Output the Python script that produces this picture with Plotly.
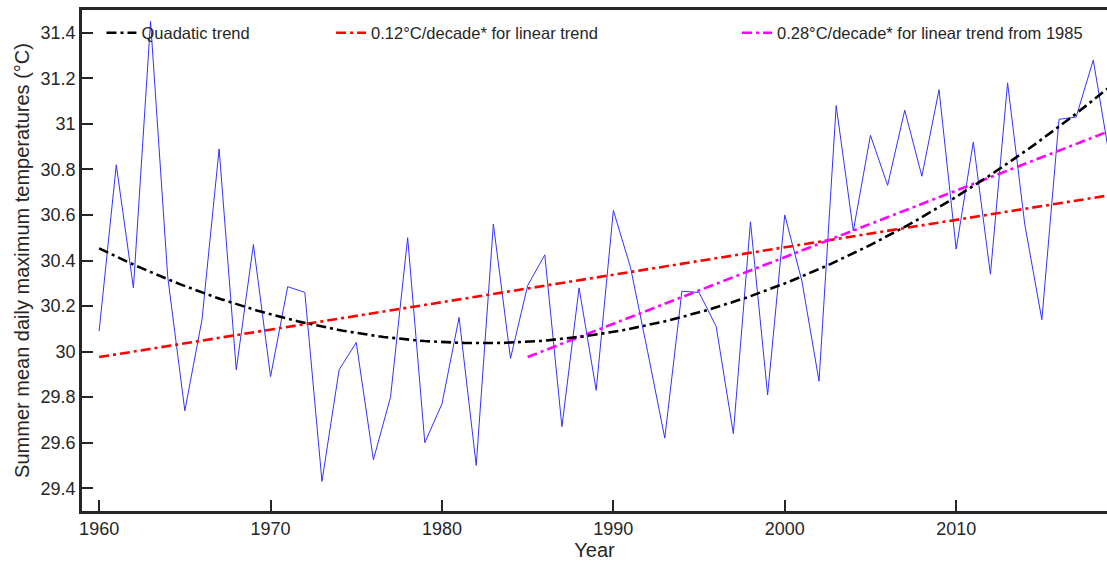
import numpy as np
import plotly.graph_objects as go

# ---- data ----
years = list(range(1960, 2020))
temps = [
    30.09, 30.82, 30.28, 31.45, 30.33, 29.74, 30.14, 30.89, 29.92, 30.47,
    29.89, 30.285, 30.26, 29.43, 29.92, 30.04, 29.525, 29.80, 30.50, 29.60,
    29.77, 30.15, 29.50, 30.56, 29.97, 30.29, 30.425, 29.67, 30.28, 29.83,
    30.62, 30.37, 30.00, 29.62, 30.265, 30.26, 30.11, 29.64, 30.57, 29.81,
    30.60, 30.31, 29.87, 31.08, 30.53, 30.95, 30.73, 31.06, 30.77, 31.15,
    30.45, 30.92, 30.34, 31.18, 30.56, 30.14, 31.02, 31.03, 31.28, 30.83,
]
recent_start = 1985
x_ticks = [1960, 1970, 1980, 1990, 2000, 2010]
y_ticks = [29.4, 29.6, 29.8, 30.0, 30.2, 30.4, 30.6, 30.8, 31.0, 31.2, 31.4]
y_ticktext = ["29.4", "29.6", "29.8", "30", "30.2", "30.4", "30.6", "30.8", "31", "31.2", "31.4"]
legend_names = ["Quadatic trend",
                "0.12°C/decade* for linear trend",
                "0.28°C/decade* for linear trend from 1985"]

# ---- fits derived from the data ----
yr = np.array(years, dtype=float)
tv = np.array(temps, dtype=float)
q = np.polyfit(yr - 1990, tv, 2)
lin = np.polyfit(yr, tv, 1)
mask = yr >= recent_start
lin2 = np.polyfit(yr[mask], tv[mask], 1)

xq = np.linspace(yr.min(), yr.max(), 200)
yq = np.polyval(q, xq - 1990)
xl = np.array([yr.min(), yr.max()])
yl = np.polyval(lin, xl)
xm = np.array([recent_start, yr.max()], dtype=float)
ym = np.polyval(lin2, xm)

DASH = "10px,4px,3px,4px"
TXT = "#262626"
FONT = "Liberation Sans, Arial, Helvetica, sans-serif"

fig = go.Figure()
fig.add_trace(go.Scatter(x=years, y=temps, mode="lines",
                         line=dict(color="rgb(50,50,255)", width=1),
                         showlegend=False, hoverinfo="x+y"))
fig.add_trace(go.Scatter(x=xl, y=yl, mode="lines", name=legend_names[1],
                         line=dict(color="#ff0000", width=2.6, dash=DASH),
                         legend="legend2"))
fig.add_trace(go.Scatter(x=xm, y=ym, mode="lines", name=legend_names[2],
                         line=dict(color="#ff00ff", width=2.6, dash=DASH),
                         legend="legend3"))
fig.add_trace(go.Scatter(x=xq, y=yq, mode="lines", name=legend_names[0],
                         line=dict(color="#000000", width=2.6, dash=DASH),
                         legend="legend"))

leg_common = dict(yanchor="middle", y=0.954, xanchor="left",
                  bgcolor="rgba(0,0,0,0)", borderwidth=0,
                  font=dict(family=FONT, size=16.5, color=TXT),
                  itemwidth=30, tracegroupgap=0)

fig.update_layout(
    width=1107, height=566,
    margin=dict(l=82, r=0, t=10, b=55, autoexpand=False),
    paper_bgcolor="white", plot_bgcolor="white",
    font=dict(family=FONT, size=18, color=TXT),
    legend=dict(x=0.019, **leg_common),
    legend2=dict(x=0.243, **leg_common),
    legend3=dict(x=0.639, **leg_common),
    xaxis=dict(range=[1959, 2018.8], tickvals=x_ticks,
               ticks="inside", ticklen=11, tickwidth=1.5, tickcolor=TXT,
               showline=True, linecolor=TXT, linewidth=2.5, mirror=True,
               showgrid=False, zeroline=False, automargin=False,
               tickfont=dict(family=FONT, size=18, color=TXT),
               title=dict(text="Year", font=dict(family=FONT, size=20, color=TXT),
                          standoff=4)),
    yaxis=dict(range=[29.3, 31.5], tickvals=y_ticks, ticktext=y_ticktext,
               ticks="inside", ticklen=11, tickwidth=1.5, tickcolor=TXT,
               showline=True, linecolor=TXT, linewidth=2.5, mirror=True,
               showgrid=False, zeroline=False, automargin=False,
               tickfont=dict(family=FONT, size=18, color=TXT),
               title=dict(text="Summer mean daily maximum temperatures (°C)",
                          font=dict(family=FONT, size=20, color=TXT),
                          standoff=6)),
)

fig.write_html("out.html",
               config={"displayModeBar": False},
               post_script="document.body.style.margin='0px';"
                           "document.body.style.overflow='hidden';")
